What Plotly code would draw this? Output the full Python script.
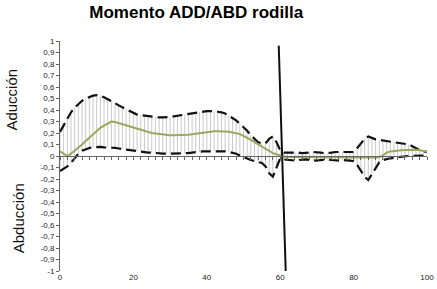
import plotly.graph_objects as go

# ---------------- data ----------------
pct = list(range(0, 101))

mean = [0.04, 0.02, 0.0, 0.02, 0.045, 0.07, 0.10, 0.13, 0.16, 0.19,
        0.22, 0.245, 0.265, 0.285, 0.30, 0.295, 0.285, 0.275, 0.265, 0.255,
        0.245, 0.235, 0.225, 0.215, 0.205, 0.20, 0.195, 0.19, 0.185, 0.18,
        0.18, 0.18, 0.18, 0.18, 0.18, 0.185, 0.19, 0.195, 0.20, 0.205,
        0.21, 0.21, 0.215, 0.215, 0.215, 0.215, 0.21, 0.205, 0.20, 0.19,
        0.175, 0.16, 0.14, 0.12, 0.10, 0.08, 0.06, 0.04, 0.025, 0.015,
        0.005, -0.005, -0.008, -0.01, -0.01, -0.008, -0.006, -0.005, -0.006, -0.008,
        -0.01, -0.01, -0.008, -0.006, -0.005, -0.006, -0.008, -0.01, -0.012, -0.012,
        -0.01, -0.008, -0.008, -0.01, -0.012, -0.014, -0.015, -0.01, 0.005, 0.03,
        0.04, 0.045, 0.048, 0.05, 0.052, 0.054, 0.055, 0.055, 0.05, 0.045,
        0.04]

upper = [0.21, 0.27, 0.33, 0.38, 0.42, 0.45, 0.48, 0.50, 0.515, 0.525,
         0.53, 0.525, 0.51, 0.495, 0.48, 0.46, 0.44, 0.425, 0.41, 0.39,
         0.375, 0.36, 0.355, 0.35, 0.345, 0.34, 0.34, 0.335, 0.335, 0.335,
         0.34, 0.345, 0.35, 0.355, 0.36, 0.37, 0.375, 0.38, 0.385, 0.39,
         0.39, 0.39, 0.39, 0.385, 0.38, 0.37, 0.35, 0.33, 0.31, 0.28,
         0.25, 0.22, 0.18, 0.15, 0.12, 0.11, 0.11, 0.15, 0.17, 0.12,
         0.05, 0.03, 0.03, 0.035, 0.035, 0.03, 0.025, 0.025, 0.03, 0.035,
         0.035, 0.03, 0.025, 0.025, 0.03, 0.035, 0.035, 0.03, 0.03, 0.03,
         0.035, 0.07, 0.11, 0.15, 0.17, 0.155, 0.145, 0.14, 0.135, 0.13,
         0.13, 0.125, 0.12, 0.115, 0.11, 0.10, 0.085, 0.065, 0.05, 0.04,
         0.035]

lower = [-0.13, -0.11, -0.09, -0.06, -0.02, 0.02, 0.045, 0.06, 0.07, 0.075,
         0.08, 0.08, 0.075, 0.075, 0.07, 0.07, 0.065, 0.06, 0.055, 0.05,
         0.05, 0.045, 0.04, 0.035, 0.03, 0.03, 0.025, 0.025, 0.02, 0.02,
         0.02, 0.02, 0.02, 0.02, 0.025, 0.025, 0.03, 0.035, 0.035, 0.04,
         0.04, 0.04, 0.045, 0.045, 0.045, 0.04, 0.035, 0.03, 0.02, 0.005,
         -0.01, -0.025, -0.035, -0.045, -0.05, -0.06, -0.09, -0.15, -0.18, -0.10,
         -0.02, -0.03, -0.035, -0.04, -0.04, -0.035, -0.03, -0.03, -0.035, -0.04,
         -0.04, -0.035, -0.03, -0.03, -0.035, -0.04, -0.04, -0.035, -0.035, -0.04,
         -0.045, -0.08, -0.13, -0.18, -0.21, -0.16, -0.10, -0.055, -0.035, -0.025,
         -0.02, -0.015, -0.01, -0.01, -0.005, 0.0, 0.0, 0.0, 0.005, 0.005,
         0.005]

event_x = [59.6, 61.5]
event_y = [0.96, -1.0]

x_tickvals = [0, 20, 40, 60, 80, 100]
x_ticktext = ["0", "20", "40", "60", "80", "100"]

y_tickvals = [1, 0.9, 0.8, 0.7, 0.6, 0.5, 0.4, 0.3, 0.2, 0.1, 0,
              -0.1, -0.2, -0.3, -0.4, -0.5, -0.6, -0.7, -0.8, -0.9, -1]
y_ticktext = ["1", "0,9", "0,8", "0,7", "0,6", "0,5", "0,4", "0,3", "0,2", "0,1", "0",
              "-0,1", "-0,2", "-0,3", "-0,4", "-0,5", "-0,6", "-0,7", "-0,8", "-0,9", "-1"]

title_text = "Momento ADD/ABD rodilla"
label_up = "Aducción"
label_down = "Abducción"

# ---------------- figure ----------------
FONT = "Liberation Sans, Arial, sans-serif"

err_plus = [u - m for u, m in zip(upper, mean)]
err_minus = [m - l for m, l in zip(mean, lower)]

fig = go.Figure()

# grey vertical bars (range lower..upper)
fig.add_trace(go.Scatter(
    x=pct, y=mean, mode="markers",
    marker=dict(size=1, color="rgba(0,0,0,0)"),
    error_y=dict(type="data", symmetric=False, array=err_plus, arrayminus=err_minus,
                 color="#c9c9c9", thickness=1, width=0),
    hoverinfo="skip", showlegend=False))

# dashed envelopes
for series in (upper, lower):
    fig.add_trace(go.Scatter(
        x=pct, y=series, mode="lines",
        line=dict(color="#111111", width=2.2, dash="10px,5px"),
        showlegend=False))

# mean curve
fig.add_trace(go.Scatter(
    x=pct, y=mean, mode="lines",
    line=dict(color="#9aa85e", width=2),
    showlegend=False))

# vertical event line
fig.add_trace(go.Scatter(
    x=event_x, y=event_y, mode="lines",
    line=dict(color="#111111", width=2),
    cliponaxis=False, showlegend=False))

# helper invisible trace for the zero-crossing axis
fig.add_trace(go.Scatter(x=[0, 100], y=[0, 0], xaxis="x2", mode="lines",
                         line=dict(width=0), hoverinfo="skip", showlegend=False))

fig.update_layout(
    width=437, height=289,
    margin=dict(l=60, r=10, t=41, b=18, autoexpand=False),
    paper_bgcolor="white", plot_bgcolor="white",
    font=dict(family=FONT, color="#222222"),
    title=dict(text="<b>" + title_text + "</b>", x=0.449, xanchor="center",
               y=0.958, yanchor="middle", font=dict(size=17, color="#000000")),
    xaxis=dict(range=[0, 100], tickvals=x_tickvals, ticktext=x_ticktext,
               showline=False, showgrid=False, zeroline=False, ticks="",
               automargin=False,
               tickfont=dict(size=8, color="#222222")),
    xaxis2=dict(range=[0, 100], overlaying="x", anchor="free", position=0.5,
                side="bottom", tickmode="linear", tick0=0, dtick=2,
                ticks="outside", ticklen=3, tickcolor="#666666",
                showticklabels=False, showline=True, linecolor="#666666",
                linewidth=1, showgrid=False, zeroline=False, automargin=False),
    yaxis=dict(range=[-1, 1], tickvals=y_tickvals, ticktext=y_ticktext,
               ticks="outside", ticklen=3, tickcolor="#666666",
               showline=True, linecolor="#666666", linewidth=1,
               showgrid=False, zeroline=False, automargin=False,
               tickfont=dict(size=8, color="#222222")),
    annotations=[
        dict(text=label_up, xref="paper", yref="paper", x=-0.131, y=0.745,
             xanchor="center", yanchor="middle",
             textangle=-90, showarrow=False, font=dict(size=15, color="#111111")),
        dict(text=label_down, xref="paper", yref="paper", x=-0.114, y=0.23,
             xanchor="center", yanchor="middle",
             textangle=-90, showarrow=False, font=dict(size=15, color="#111111")),
    ],
)

fig.write_html("out.html",
               config={"displayModeBar": False},
               post_script="document.body.style.margin='0px';document.body.style.padding='0px';")
